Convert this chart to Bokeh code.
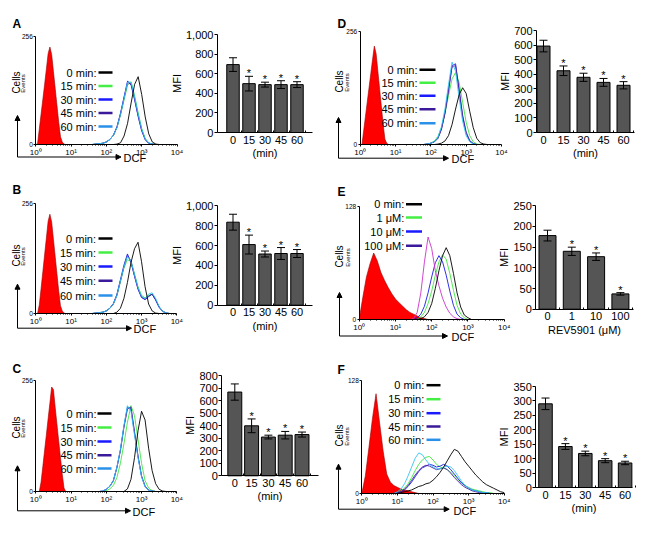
import math
from bokeh.plotting import figure
from bokeh.models import Range1d, LinearAxis, FixedTicker, Arrow, NormalHead, NumeralTickFormatter
from bokeh.core.properties import value
from bokeh.embed import file_html
from bokeh.resources import INLINE

FONT = "Liberation Sans"
W, H = 650, 519
OX, OY = 8, 8

# ---------------- data ----------------
TIME_LEGEND = ["0 min:", "15 min:", "30 min:", "45 min:", "60 min:"]
DOSE_LEGEND = ["0 min:", "1 μM:", "10 μM:", "100 μM:"]
TIME_CATS = ["0", "15", "30", "45", "60"]
DOSE_CATS = ["0", "1", "10", "100"]
DECADE_TICKS = [0, 1, 2, 3, 4]
DECADE_LABELS = ["10⁰", "10¹", "10²", "10³", "10⁴"]

# x values are log10(DCF); y values are cell counts (events)
RED_X_FINE = [0.0, 0.05, 0.1, 0.15, 0.2, 0.25, 0.3, 0.35, 0.4, 0.45, 0.5, 0.55, 0.6, 0.65, 0.7, 0.75, 0.8, 0.85]
A_RED = [0, 2, 37, 72, 107, 142, 178, 215, 230, 212, 172, 132, 92, 52, 18, 6, 1, 0]
B_RED = [0, 0, 20, 58, 97, 136, 175, 214, 230, 212, 172, 132, 92, 52, 18, 6, 1, 0]
C_RED = [0, 0, 0, 22, 58, 95, 131, 168, 204, 241, 235, 194, 155, 116, 78, 40, 8, 0]
D_RED = [0, 0, 32, 64, 96, 128, 160, 192, 222, 205, 165, 125, 85, 45, 12, 3, 0, 0]
E_RED_X = [0.0, 0.1, 0.2, 0.3, 0.4, 0.5, 0.6, 0.7, 0.8, 0.9, 1.0, 1.1, 1.2, 1.3, 1.4, 1.5, 1.6, 1.7, 1.8, 1.9]
E_RED = [0, 25, 48, 63, 75, 66, 53, 44, 36, 29, 23, 19, 15, 11, 8, 6, 4, 2, 1, 0]
F_RED_X = [0.0, 0.1, 0.2, 0.3, 0.4, 0.5, 0.6, 0.7, 0.8, 0.9, 1.0, 1.1, 1.2, 1.3, 1.4, 1.5, 1.6, 1.7]
F_RED = [0, 20, 52, 85, 113, 80, 48, 22, 13, 9, 7, 5, 4, 3, 2, 1, 0, 0]

A_X = [1.6, 1.7, 1.8, 1.9, 2.0, 2.1, 2.2, 2.3, 2.4, 2.5, 2.6, 2.7, 2.8, 2.9, 3.0, 3.1, 3.2, 3.3, 3.4, 3.5]
A_0 = [0, 0, 0, 0, 0, 0, 0, 1, 4, 20, 50, 98, 142, 160, 118, 65, 25, 6, 1, 0]
A_15 = [0, 1, 2, 3, 6, 12, 22, 40, 70, 105, 140, 148, 115, 75, 38, 14, 4, 1, 0, 0]
A_30 = [0, 1, 2, 3, 6, 12, 22, 42, 74, 112, 150, 140, 105, 66, 32, 11, 3, 1, 0, 0]
A_45 = [0, 1, 2, 3, 6, 12, 22, 41, 72, 110, 146, 143, 108, 68, 34, 12, 3, 1, 0, 0]
A_60 = [0, 1, 2, 3, 6, 12, 22, 40, 71, 108, 147, 147, 112, 72, 36, 13, 4, 1, 0, 0]

B_X = [1.6, 1.7, 1.8, 1.9, 2.0, 2.1, 2.2, 2.3, 2.4, 2.5, 2.6, 2.7, 2.8, 2.9, 3.0, 3.1, 3.2, 3.3, 3.4, 3.5, 3.6, 3.7, 3.8]
B_0 = [0, 0, 0, 0, 0, 0, 0, 3, 12, 35, 72, 118, 150, 165, 120, 62, 22, 6, 1, 0, 0, 0, 0]
B_15 = [0, 1, 2, 3, 6, 12, 22, 42, 73, 105, 125, 120, 92, 62, 42, 36, 42, 44, 32, 15, 5, 1, 0]
B_30 = [0, 1, 2, 3, 6, 12, 23, 44, 78, 112, 138, 118, 86, 56, 37, 32, 39, 45, 31, 14, 5, 1, 0]
B_45 = [0, 1, 2, 3, 6, 12, 22, 42, 75, 108, 134, 122, 88, 58, 38, 33, 40, 45, 32, 15, 5, 1, 0]
B_60 = [0, 1, 2, 3, 6, 12, 22, 42, 75, 108, 132, 122, 90, 60, 40, 35, 45, 48, 35, 16, 5, 1, 0]

C_X = [1.8, 1.9, 2.0, 2.1, 2.2, 2.3, 2.4, 2.5, 2.6, 2.7, 2.8, 2.9, 3.0, 3.1, 3.2, 3.3, 3.4, 3.5, 3.6, 3.7]
C_0 = [0, 0, 0, 0, 0, 0, 0, 0, 6, 28, 78, 140, 185, 165, 100, 48, 18, 5, 1, 0]
C_15 = [0, 0, 2, 6, 14, 32, 65, 110, 160, 198, 175, 120, 65, 25, 8, 2, 0, 0, 0, 0]
C_30 = [0, 1, 5, 12, 25, 55, 95, 150, 195, 190, 135, 80, 35, 12, 3, 1, 0, 0, 0, 0]
C_45 = [0, 1, 5, 12, 25, 55, 95, 148, 190, 195, 138, 82, 36, 12, 3, 1, 0, 0, 0, 0]
C_60 = [0, 1, 5, 12, 25, 56, 97, 152, 198, 185, 130, 78, 34, 11, 3, 1, 0, 0, 0, 0]

D_X = [1.8, 1.9, 2.0, 2.1, 2.2, 2.3, 2.4, 2.5, 2.6, 2.7, 2.8, 2.9, 3.0, 3.1, 3.2, 3.3, 3.4, 3.5, 3.6]
D_0 = [0, 0, 0, 0, 1, 3, 8, 20, 45, 80, 112, 128, 115, 75, 38, 14, 4, 1, 0]
D_15 = [0, 1, 3, 8, 18, 38, 70, 110, 148, 162, 140, 95, 50, 20, 6, 1, 0, 0, 0]
D_30 = [0, 1, 3, 6, 14, 35, 72, 125, 178, 182, 120, 62, 25, 8, 2, 0, 0, 0, 0]
D_45 = [0, 1, 3, 6, 14, 34, 70, 120, 175, 178, 125, 66, 28, 9, 2, 0, 0, 0, 0]
D_60 = [0, 1, 3, 7, 16, 40, 80, 135, 186, 165, 105, 52, 20, 6, 1, 0, 0, 0, 0]

E_X = [1.4, 1.5, 1.6, 1.7, 1.8, 1.9, 2.0, 2.1, 2.2, 2.3, 2.4, 2.5, 2.6, 2.7, 2.8, 2.9, 3.0, 3.1, 3.2]
E_0 = [0, 0, 0, 1, 3, 8, 18, 35, 55, 72, 81, 72, 52, 30, 14, 5, 2, 0, 0]
E_1 = [0, 0, 0, 3, 8, 18, 32, 50, 65, 73, 68, 52, 33, 16, 6, 2, 0, 0, 0]
E_10 = [0, 0, 2, 6, 15, 30, 48, 64, 72, 65, 50, 32, 16, 6, 2, 0, 0, 0, 0]
E_100 = [0, 1, 8, 30, 65, 93, 80, 55, 38, 24, 14, 7, 3, 1, 0, 0, 0, 0, 0]

F_X = [0.9, 1.0, 1.1, 1.2, 1.3, 1.4, 1.5, 1.6, 1.7, 1.8, 1.9, 2.0, 2.1, 2.2, 2.3, 2.4,
       2.5, 2.6, 2.7, 2.8, 2.9, 3.0, 3.1, 3.2, 3.3, 3.4, 3.5, 3.6, 3.7, 3.8, 3.9, 4.0]
F_0 = [0, 0, 1, 2, 3, 4, 6, 8, 9, 11, 12, 15, 19, 24, 30, 37, 44, 50, 48, 42, 36, 31, 26, 21, 17, 13, 10, 8, 6, 4, 2, 1]
F_15 = [0, 1, 3, 6, 11, 18, 26, 33, 38, 41, 42, 38, 33, 30, 29, 27, 24, 20, 16, 12, 9, 7, 5, 4, 3, 2, 1, 1, 0, 0, 0, 0]
F_30 = [0, 1, 2, 4, 8, 13, 19, 25, 29, 31, 33, 32, 30, 31, 33, 31, 27, 22, 17, 12, 9, 6, 4, 3, 2, 1, 1, 0, 0, 0, 0, 0]
F_45 = [0, 1, 2, 5, 9, 15, 21, 26, 30, 32, 31, 29, 27, 28, 29, 27, 23, 18, 14, 10, 7, 5, 3, 2, 1, 1, 0, 0, 0, 0, 0, 0]
F_60 = [0, 2, 5, 11, 20, 30, 40, 46, 44, 38, 33, 30, 28, 28, 30, 31, 30, 26, 20, 14, 9, 6, 4, 3, 2, 1, 1, 0, 0, 0, 0, 0]

# bar charts: mean fluorescence intensity and error
A_MFI = [695, 500, 490, 490, 490]
A_ERR = [70, 75, 25, 40, 30]
B_MFI = [835, 610, 515, 520, 520]
B_ERR = [80, 95, 30, 60, 40]
C_MFI = [670, 400, 310, 325, 330]
C_ERR = [65, 55, 15, 30, 20]
D_MFI = [595, 425, 380, 345, 325]
D_ERR = [40, 33, 28, 27, 25]
E_MFI = [178, 140, 127, 37]
E_ERR = [13, 10, 9, 3]
F_MFI = [290, 142, 118, 93, 85]
F_ERR = [20, 10, 8, 7, 6]

A_YTICKS = [0, 200, 400, 600, 800, 1000]
C_YTICKS = [0, 100, 200, 300, 400, 500, 600, 700, 800]
D_YTICKS = [0, 100, 200, 300, 400, 500, 600, 700]
E_YTICKS = [0, 50, 100, 150, 200, 250]
F_YTICKS = [0, 50, 100, 150, 200, 250, 300, 350]

TIME_COLORS = ["#000000", "#3ee63e", "#1a1ae6", "#4a1fa0", "#33c6f0"]
TIME_LEG_COLORS = ["#000000", "#44ee44", "#1a1aff", "#3a1a9a", "#2a90e8"]
DOSE_COLORS = ["#000000", "#3ee63e", "#1a1ae6", "#cc33cc"]
DOSE_LEG_COLORS = ["#000000", "#44ee44", "#1a1aff", "#3a1a9a"]
BAR_FILL = "#555555"

HIST = {
    "A": dict(rx=RED_X_FINE, ry=A_RED, cx=A_X, curves=[A_0, A_15, A_30, A_45, A_60], ymax=256,
              legend=TIME_LEGEND, colors=TIME_COLORS, lcolors=TIME_LEG_COLORS),
    "B": dict(rx=RED_X_FINE, ry=B_RED, cx=B_X, curves=[B_0, B_15, B_30, B_45, B_60], ymax=256,
              legend=TIME_LEGEND, colors=TIME_COLORS, lcolors=TIME_LEG_COLORS),
    "C": dict(rx=RED_X_FINE, ry=C_RED, cx=C_X, curves=[C_0, C_15, C_30, C_45, C_60], ymax=256,
              legend=TIME_LEGEND, colors=TIME_COLORS, lcolors=TIME_LEG_COLORS),
    "D": dict(rx=RED_X_FINE, ry=D_RED, cx=D_X, curves=[D_0, D_15, D_30, D_45, D_60], ymax=256,
              legend=TIME_LEGEND, colors=TIME_COLORS, lcolors=TIME_LEG_COLORS),
    "E": dict(rx=E_RED_X, ry=E_RED, cx=E_X, curves=[E_0, E_1, E_10, E_100], ymax=128,
              legend=DOSE_LEGEND, colors=DOSE_COLORS, lcolors=DOSE_LEG_COLORS),
    "F": dict(rx=F_RED_X, ry=F_RED, cx=F_X, curves=[F_0, F_15, F_30, F_45, F_60], ymax=128,
              legend=TIME_LEGEND, colors=TIME_COLORS, lcolors=TIME_LEG_COLORS),
}

BARS = {
    "bA": dict(cats=TIME_CATS, vals=A_MFI, errs=A_ERR, yticks=A_YTICKS, xlabel="(min)"),
    "bB": dict(cats=TIME_CATS, vals=B_MFI, errs=B_ERR, yticks=A_YTICKS, xlabel="(min)"),
    "bC": dict(cats=TIME_CATS, vals=C_MFI, errs=C_ERR, yticks=C_YTICKS, xlabel="(min)"),
    "bD": dict(cats=TIME_CATS, vals=D_MFI, errs=D_ERR, yticks=D_YTICKS, xlabel="(min)"),
    "bE": dict(cats=DOSE_CATS, vals=E_MFI, errs=E_ERR, yticks=E_YTICKS, xlabel="REV5901 (μM)"),
    "bF": dict(cats=TIME_CATS, vals=F_MFI, errs=F_ERR, yticks=F_YTICKS, xlabel="(min)"),
}

# ---------------- layout geometry (page pixels) ----------------
HGEO = {
    "A": dict(x0=43.3, x4=184.5, yb=152.0, yt=43.5, letter=(20, 31), cells=(23.5, 90), events=(30, 91),
              arrow=(25, 164.5, 123, 128.5), dcf=(131, 165.5), leg=(104, 106, 120, [80, 93.5, 107, 120.5, 134])),
    "B": dict(x0=43.3, x4=184.3, yb=321.0, yt=210.5, letter=(20, 197.5), cells=(23.5, 263), events=(30, 264),
              arrow=(25, 335.7, 291.7, 139), dcf=(141, 336.5), leg=(103.5, 106, 120, [246, 260, 274, 288.3, 303])),
    "C": dict(x0=43.3, x4=184.3, yb=499.0, yt=388.0, letter=(20, 376), cells=(23.5, 435), events=(30, 436),
              arrow=(25, 518.3, 473.3, 138), dcf=(140, 519), leg=(104, 105, 119, [421, 435, 449, 462.7, 476])),
    "D": dict(x0=367.7, x4=509.0, yb=152.0, yt=38.5, letter=(345, 31), cells=(347, 89), events=(354, 90),
              arrow=(346, 165.7, 125, 456), dcf=(459, 166), leg=(425, 427, 443, [77.3, 90.3, 103.3, 116.7, 130.7])),
    "E": dict(x0=366.7, x4=511.7, yb=327.0, yt=213.5, letter=(345, 199), cells=(347, 264), events=(355, 265),
              arrow=(347, 343.5, 300, 455), dcf=(459, 344), leg=(411.7, 413.5, 429.5, [211.7, 225, 239, 253.3])),
    "F": dict(x0=369.3, x4=511.7, yb=501.0, yt=388.0, letter=(345, 377.5), cells=(347, 443), events=(354, 444),
              arrow=(346, 516.7, 471.7, 456.7), dcf=(461, 518), leg=(431.7, 434, 448, [392.7, 406.7, 420.7, 434, 447.3])),
}

BGEO = {
    "bA": dict(c0=240.5, sp=16.0, yb=140.0, yt=42.3, bounds=(-0.97, 4.97), bw=0.78),
    "bB": dict(c0=240.5, sp=16.0, yb=312.7, yt=213.3, bounds=(-0.97, 4.97), bw=0.78),
    "bC": dict(c0=242.3, sp=16.8, yb=483.3, yt=383.3, bounds=(-0.77, 4.98), bw=0.83),
    "bD": dict(c0=551.0, sp=20.0, yb=140.0, yt=38.3, bounds=(-0.35, 4.55), bw=0.65),
    "bE": dict(c0=555.0, sp=24.3, yb=316.7, yt=213.3, bounds=(-0.48, 3.53), bw=0.70),
    "bF": dict(c0=553.0, sp=19.9, yb=495.0, yt=394.0, bounds=(-0.49, 4.39), bw=0.68),
}

# ---------------- ranges ----------------
xr_map, yr_map = {}, {}


def set_ranges(key, xa, pxa, xb, pxb, ya, pya, yb, pyb):
    sx = (xb - xa) / (pxb - pxa)
    xr_map[key] = Range1d(start=xa + (OX - pxa) * sx, end=xa + (OX + W - pxa) * sx)
    sy = (yb - ya) / (pya - pyb)
    yr_map[key] = Range1d(start=ya - (OY + H - pya) * sy, end=ya + (pya - OY) * sy)


for k, d in HIST.items():
    g = HGEO[k]
    set_ranges(k, 0, g["x0"], 4, g["x4"], 0, g["yb"], d["ymax"], g["yt"])
for k, d in BARS.items():
    g = BGEO[k]
    set_ranges(k, 0, g["c0"], 1, g["c0"] + g["sp"], 0, g["yb"], d["yticks"][-1], g["yt"])

p = figure(width=W, height=H, x_range=Range1d(OX, OX + W), y_range=Range1d(OY + H, OY),
           x_axis_type=None, y_axis_type=None, toolbar_location=None, output_backend="svg",
           min_border=0, outline_line_color=None)
p.background_fill_color = "white"
p.border_fill_color = "white"
p.extra_x_ranges = xr_map
p.extra_y_ranges = yr_map

MINOR_LOG = [d + math.log10(m) for d in range(4) for m in range(2, 10)]


def style_axis(ax, size):
    ax.major_label_text_font = FONT
    ax.major_label_text_font_size = size
    ax.axis_label_text_font = FONT
    ax.axis_label_text_font_style = "normal"
    ax.axis_label_text_color = "black"
    ax.axis_line_color = "black"
    ax.major_tick_line_color = "black"
    ax.minor_tick_line_color = "black"
    ax.major_label_text_color = "black"


def txt(x, y, s, size, align="left", baseline="middle", angle=0, style="normal"):
    p.text(x=[x], y=[y], text=[s], text_font=value(FONT), text_font_size=size, text_align=align,
           text_baseline=baseline, angle=angle, text_font_style=style, text_color="black")


# ---------------- histograms ----------------
for k, d in HIST.items():
    g = HGEO[k]
    rn = dict(x_range_name=k, y_range_name=k)
    p.varea(x=d["rx"], y1=0, y2=d["ry"], fill_color="#ff0000", **rn)
    p.line(d["rx"], d["ry"], line_color="#990000", line_width=0.6, **rn)
    for ys, c in zip(d["curves"][1:], d["colors"][1:]):
        p.line(d["cx"], ys, line_color=c, line_width=0.9, **rn)
    p.line(d["cx"], d["curves"][0], line_color=d["colors"][0], line_width=0.9, **rn)

    xa = LinearAxis(fixed_location=0, bounds=(0, 4),
                    ticker=FixedTicker(ticks=DECADE_TICKS, minor_ticks=MINOR_LOG),
                    major_label_overrides=dict(zip(DECADE_TICKS, DECADE_LABELS)),
                    major_tick_out=2, major_tick_in=0, minor_tick_out=1, minor_tick_in=0,
                    major_label_standoff=1, **rn)
    style_axis(xa, "8px")
    p.add_layout(xa, "below")
    ya = LinearAxis(fixed_location=0, bounds=(0, d["ymax"]),
                    ticker=FixedTicker(ticks=[0, d["ymax"]], minor_ticks=[]),
                    major_tick_out=2, major_tick_in=0, minor_tick_out=0, minor_tick_in=0,
                    major_label_standoff=1, **rn)
    style_axis(ya, "6.5px")
    p.add_layout(ya, "left")

    # decorations
    lx, ly = g["letter"]
    txt(lx, ly, k, "12px", style="bold")
    cx_, cy_ = g["cells"]
    txt(cx_, cy_, "Cells", "10px", align="center", angle=math.pi / 2)
    ex, ey = g["events"]
    txt(ex, ey, "Events", "6px", align="center", angle=math.pi / 2)
    ox, oy, vt, ht = g["arrow"]
    p.add_layout(Arrow(end=NormalHead(size=5, fill_color="black", line_color="black", line_width=1),
                       x_start=ox, y_start=oy, x_end=ox, y_end=vt, line_width=1, line_color="black"))
    p.add_layout(Arrow(end=NormalHead(size=5, fill_color="black", line_color="black", line_width=1),
                       x_start=ox, y_start=oy, x_end=ht, y_end=oy, line_width=1, line_color="black"))
    dx, dy = g["dcf"]
    txt(dx, dy, "DCF", "11px")
    tr, l0, l1, rows = g["leg"]
    for lab, c, ry in zip(d["legend"], d["lcolors"], rows):
        txt(tr, ry, lab, "11px", align="right")
        p.segment(x0=[l0], y0=[ry], x1=[l1], y1=[ry], line_color=c, line_width=2.5)

# ---------------- bar charts ----------------
for k, d in BARS.items():
    g = BGEO[k]
    rn = dict(x_range_name=k, y_range_name=k)
    n = len(d["cats"])
    idx = list(range(n))
    hi = [v + e for v, e in zip(d["vals"], d["errs"])]
    lo = [v - e for v, e in zip(d["vals"], d["errs"])]
    p.vbar(x=idx, top=d["vals"], bottom=0, width=g["bw"], fill_color=BAR_FILL,
           line_color="black", line_width=1, **rn)
    p.segment(x0=idx, y0=lo, x1=idx, y1=hi, line_color="black", line_width=1, **rn)
    cw = 4.0 / g["sp"]
    for yy in (hi, lo):
        p.segment(x0=[i - cw for i in idx], y0=yy, x1=[i + cw for i in idx], y1=yy,
                  line_color="black", line_width=1, **rn)
    p.text(x=idx[1:], y=hi[1:], text=["*"] * (n - 1), text_font=value(FONT), text_font_size="11px",
           text_align="center", text_baseline="alphabetic", y_offset=-3, text_color="black", **rn)

    yticks = d["yticks"]
    ya = LinearAxis(fixed_location=g["bounds"][0], bounds=(0, yticks[-1]),
                    ticker=FixedTicker(ticks=yticks, minor_ticks=[]),
                    formatter=NumeralTickFormatter(format="0,0"),
                    major_tick_out=3, major_tick_in=0, minor_tick_out=0, minor_tick_in=0,
                    major_label_standoff=1, axis_label="MFI", axis_label_standoff=0, **rn)
    style_axis(ya, "11px")
    ya.axis_label_text_font_size = "11px"
    p.add_layout(ya, "left")
    xa = LinearAxis(fixed_location=0, bounds=g["bounds"],
                    ticker=FixedTicker(ticks=idx, minor_ticks=[i + 0.5 for i in idx]),
                    major_label_overrides=dict(zip(idx, d["cats"])),
                    major_tick_out=0, major_tick_in=0, minor_tick_out=0, minor_tick_in=2,
                    major_label_standoff=3, axis_label=d["xlabel"], axis_label_standoff=0, **rn)
    style_axis(xa, "11px")
    xa.axis_label_text_font_size = "11px"
    p.add_layout(xa, "below")

open("out.html", "w").write(file_html(p, INLINE))
